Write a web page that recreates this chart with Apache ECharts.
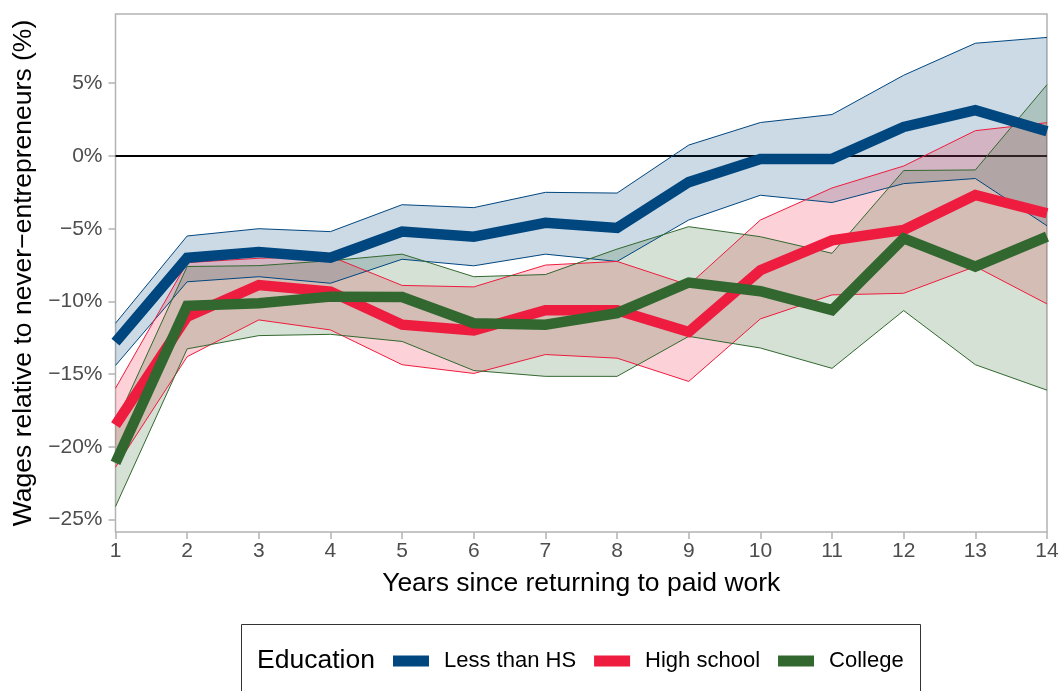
<!DOCTYPE html>
<html>
<head>
<meta charset="utf-8">
<script src="https://cdn.jsdelivr.net/npm/echarts@6/dist/echarts.min.js"></script>
<style>
  html, body { margin: 0; padding: 0; background: #fff; }
  #chart { width: 1062px; height: 691px; }
</style>
</head>
<body>
<div id="chart"></div>
<script>
// Years since returning to paid work
const years = [1, 2, 3, 4, 5, 6, 7, 8, 9, 10, 11, 12, 13, 14];

// Wage gap (%) vs never-entrepreneurs, with confidence bounds
const lessHSMean  = [-12.8, -7.0, -6.6, -7.0, -5.2, -5.55, -4.6, -4.95, -1.8, -0.2, -0.2, 2.0, 3.15, 1.7];
const lessHSLower = [-14.4, -8.65, -8.3, -8.75, -7.1, -7.55, -6.75, -7.25, -4.4, -2.7, -3.2, -1.9, -1.55, -4.8];
const lessHSUpper = [-11.5, -5.5, -5.0, -5.2, -3.35, -3.55, -2.5, -2.55, 0.75, 2.3, 2.85, 5.55, 7.75, 8.15];

const highSchoolMean  = [-18.5, -11.05, -8.87, -9.32, -11.6, -12.0, -10.6, -10.6, -12.1, -7.85, -5.8, -5.09, -2.68, -3.94];
const highSchoolLower = [-21.4, -13.8, -11.27, -11.96, -14.35, -14.95, -13.65, -13.9, -15.5, -11.2, -9.55, -9.44, -7.6, -10.17];
const highSchoolUpper = [-15.97, -7.33, -7.03, -6.9, -8.9, -9.0, -7.5, -7.25, -8.87, -4.4, -2.2, -0.69, 1.74, 2.29];

const collegeMean  = [-21.1, -10.3, -10.13, -9.67, -9.7, -11.5, -11.6, -10.8, -8.7, -9.3, -10.6, -5.66, -7.6, -5.54];
const collegeLower = [-24.1, -13.26, -12.35, -12.26, -12.75, -14.75, -15.15, -15.15, -12.4, -13.2, -14.6, -10.63, -14.35, -16.1];
const collegeUpper = [-18.4, -7.6, -7.54, -7.2, -6.75, -8.3, -8.15, -6.4, -4.86, -5.55, -6.69, -1.0, -0.96, 4.9];

const yTickValues = [-25, -20, -15, -10, -5, 0, 5];

const FONT = 'Liberation Sans, Arial, Helvetica, sans-serif';

const groups = [
  { name: 'Less than HS', color: '#00467F', mean: lessHSMean, lower: lessHSLower, upper: lessHSUpper },
  { name: 'High school',  color: '#EE1C3E', mean: highSchoolMean, lower: highSchoolLower, upper: highSchoolUpper },
  { name: 'College',      color: '#32682F', mean: collegeMean, lower: collegeLower, upper: collegeUpper }
];

const fmtPct = v => (v < 0 ? '\u2212' + Math.abs(v) : String(v)) + '%';

const series = [];

// Reference line at zero, drawn beneath the ribbons
series.push({
  type: 'line',
  name: 'zero',
  data: [],
  silent: true,
  markLine: {
    silent: true,
    z: 1,
    symbol: ['none', 'none'],
    label: { show: false },
    lineStyle: { color: '#000', width: 2, type: 'solid' },
    data: [{ yAxis: 0 }]
  }
});

// Confidence ribbons: lower edge, then the band width stacked on top of it
groups.forEach(g => {
  series.push({
    type: 'line',
    name: g.name + ' lower',
    data: g.lower,
    stack: g.name,
    stackStrategy: 'all',
    symbol: 'none',
    silent: true,
    z: 2,
    lineStyle: { color: g.color, width: 1 }
  });
  series.push({
    type: 'line',
    name: g.name + ' band',
    data: g.upper.map((u, i) => +(u - g.lower[i]).toFixed(4)),
    stack: g.name,
    stackStrategy: 'all',
    symbol: 'none',
    silent: true,
    z: 2,
    lineStyle: { color: g.color, width: 1 },
    areaStyle: { color: g.color, opacity: 0.2 }
  });
});

// Point estimates
groups.forEach(g => {
  series.push({
    type: 'line',
    name: g.name,
    data: g.mean,
    symbol: 'none',
    silent: true,
    z: 3,
    color: g.color,
    lineStyle: { color: g.color, width: 10.5, join: 'miter', cap: 'butt' }
  });
});

const chart = echarts.init(document.getElementById('chart'), null, { renderer: 'canvas' });

chart.setOption({
  animation: false,
  backgroundColor: '#fff',
  textStyle: { fontFamily: FONT },
  grid: {
    left: 115.5, right: 15, top: 14, bottom: 159,
    show: true, borderColor: '#b3b3b3', borderWidth: 1.5, backgroundColor: 'transparent'
  },
  xAxis: {
    type: 'category',
    data: years,
    boundaryGap: false,
    name: 'Years since returning to paid work',
    nameLocation: 'middle',
    nameGap: 38,
    nameTextStyle: { fontSize: 26.5, color: '#000', fontFamily: FONT },
    axisLine: { show: false, onZero: false },
    axisTick: { show: true, length: 7, lineStyle: { color: '#b3b3b3', width: 1.5 } },
    axisLabel: { fontSize: 21, color: '#4d4d4d', margin: 9, fontFamily: FONT },
    splitLine: { show: false }
  },
  yAxis: {
    type: 'value',
    min: -25.85,
    max: 9.76,
    name: 'Wages relative to never\u2212entrepreneurs (%)',
    nameLocation: 'middle',
    nameGap: 70,
    nameTextStyle: { fontSize: 26.5, color: '#000', fontFamily: FONT },
    axisLine: { show: false, onZero: false },
    axisTick: { show: true, length: 7, customValues: yTickValues, lineStyle: { color: '#b3b3b3', width: 1.5 } },
    axisLabel: { fontSize: 21, color: '#4d4d4d', margin: 13, customValues: yTickValues, formatter: fmtPct, fontFamily: FONT },
    splitLine: { show: false }
  },
  legend: {
    data: groups.map(g => g.name),
    left: 388,
    top: 645,
    icon: 'rect',
    itemWidth: 36,
    itemHeight: 11,
    itemGap: 18,
    selectedMode: false,
    textStyle: { fontSize: 22, color: '#000', fontFamily: FONT, padding: [0, 0, 0, 10] }
  },
  graphic: [
    {
      type: 'rect',
      silent: true,
      shape: { x: 241.5, y: 624.5, width: 679, height: 100 },
      style: { fill: 'none', stroke: '#333', lineWidth: 1 }
    },
    {
      type: 'text',
      silent: true,
      x: 257,
      y: 661,
      style: { text: 'Education', fontSize: 26.5, fontFamily: FONT, fill: '#000', align: 'left', verticalAlign: 'middle' }
    }
  ],
  series: series
});
</script>
</body>
</html>
